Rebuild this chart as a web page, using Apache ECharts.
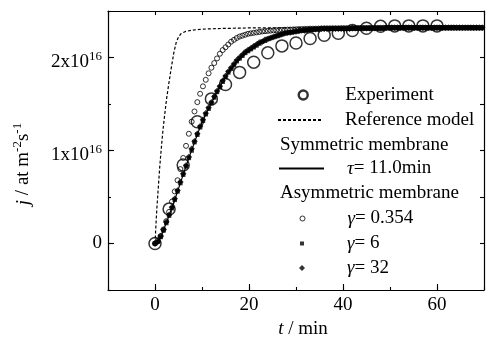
<!DOCTYPE html>
<html>
<head>
<meta charset="utf-8">
<script src="https://cdn.jsdelivr.net/npm/echarts@6/dist/echarts.min.js"></script>
<style>
  html, body { margin: 0; padding: 0; background: #fff; }
  #chart { width: 486px; height: 352px; }
</style>
</head>
<body>
<div id="chart"></div>
<script>
const FONT = '"Liberation Serif", "Times New Roman", serif';

// flux values are in units of 1e16 at m^-2 s^-1

// experiment, one point every 3 min
const expTime = [0, 3, 6, 9, 12, 15, 18, 21, 24, 27, 30, 33, 36, 39, 42, 45, 48, 51, 54, 57, 60];
const expFlux = [0, 0.37, 0.845, 1.31, 1.555, 1.71, 1.84, 1.95, 2.05, 2.125, 2.155, 2.205, 2.24, 2.26,
  2.29, 2.315, 2.335, 2.34, 2.34, 2.34, 2.34];

// reference model (dashed)
const refTime = [0, 0.2, 0.4, 0.7, 1.0, 1.3, 1.6, 2.0, 2.5, 3.0, 3.5, 4.0, 4.5, 5.0, 5.5, 6.5, 8, 10, 14, 20, 30, 70];
const refFlux = [0, 0.2, 0.38, 0.6, 0.82, 1.0, 1.17, 1.36, 1.57, 1.74, 1.9, 2.05, 2.16, 2.22, 2.255, 2.28,
  2.295, 2.305, 2.312, 2.318, 2.32, 2.32];

// symmetric membrane, tau = 11.0 min (solid)
const symTime = [0, 1, 2, 3, 4, 5, 6, 7, 8, 9, 10, 11, 12, 13, 14, 15, 16, 17, 18, 19, 20, 22, 24, 26, 28,
  30, 32, 35, 40, 45, 50, 60, 70];
const symFlux = [0, 0.05, 0.17, 0.30, 0.44, 0.59, 0.74, 0.89, 1.03, 1.17, 1.30, 1.41, 1.51, 1.61, 1.70,
  1.79, 1.87, 1.93, 1.99, 2.04, 2.07, 2.15, 2.20, 2.24, 2.265, 2.28, 2.295, 2.305, 2.315, 2.318, 2.32, 2.32, 2.32];

// asymmetric membrane models, sampled every 0.6 min from t = 0
const modelStep = 0.6;
const gamma0354 = [
  0, 0.03, 0.08, 0.15, 0.24, 0.34, 0.45, 0.56, 0.68, 0.80,
  0.92, 1.05, 1.18, 1.31, 1.42, 1.52, 1.61, 1.69, 1.76, 1.83,
  1.89, 1.94, 1.99, 2.04, 2.08, 2.11, 2.14, 2.17, 2.19, 2.21,
  2.225, 2.235, 2.245, 2.255, 2.26, 2.265, 2.27, 2.275, 2.28, 2.283,
  2.286, 2.289, 2.291, 2.293, 2.295, 2.297, 2.298, 2.30, 2.30, 2.302,
  2.303, 2.305, 2.306, 2.307, 2.308, 2.31, 2.31, 2.31, 2.311, 2.312,
  2.313, 2.313, 2.313, 2.314, 2.314, 2.314, 2.315, 2.315, 2.315, 2.315,
  2.316, 2.316, 2.316, 2.317, 2.317, 2.317, 2.318, 2.318, 2.318, 2.318,
  2.319, 2.319, 2.319, 2.32, 2.32, 2.32, 2.32, 2.32, 2.32, 2.32,
  2.32, 2.32, 2.32, 2.32, 2.32, 2.32, 2.32, 2.32, 2.32, 2.32,
  2.32, 2.32, 2.32, 2.32, 2.32, 2.32, 2.32, 2.32, 2.32, 2.32,
  2.32, 2.32, 2.32, 2.32, 2.32, 2.32, 2.32
];
const gamma6 = [
  0, 0.02, 0.07, 0.14, 0.22, 0.30, 0.38, 0.47, 0.56, 0.65,
  0.74, 0.83, 0.92, 1.00, 1.09, 1.17, 1.25, 1.32, 1.39, 1.45,
  1.51, 1.57, 1.63, 1.68, 1.74, 1.79, 1.84, 1.88, 1.92, 1.96,
  1.99, 2.02, 2.05, 2.07, 2.09, 2.11, 2.13, 2.15, 2.17, 2.18,
  2.20, 2.21, 2.22, 2.23, 2.24, 2.25, 2.26, 2.265, 2.27, 2.275,
  2.28, 2.285, 2.29, 2.29, 2.295, 2.30, 2.30, 2.305, 2.305, 2.31,
  2.31, 2.31, 2.31, 2.31, 2.31, 2.31, 2.31, 2.31, 2.31, 2.31,
  2.315, 2.315, 2.315, 2.315, 2.315, 2.315, 2.315, 2.315, 2.315, 2.315,
  2.315, 2.315, 2.32, 2.32, 2.32, 2.32, 2.32, 2.32, 2.32, 2.32,
  2.32, 2.32, 2.32, 2.32, 2.32, 2.32, 2.32, 2.32, 2.32, 2.32,
  2.32, 2.32, 2.32, 2.32, 2.32, 2.32, 2.32, 2.32, 2.32, 2.32,
  2.32, 2.32, 2.32, 2.32, 2.32, 2.32, 2.32
];
const gamma32 = [
  0, 0.02, 0.08, 0.15, 0.23, 0.31, 0.39, 0.48, 0.57, 0.66,
  0.75, 0.84, 0.93, 1.02, 1.10, 1.18, 1.26, 1.33, 1.40, 1.46,
  1.52, 1.58, 1.64, 1.69, 1.75, 1.80, 1.85, 1.89, 1.93, 1.97,
  2.00, 2.03, 2.06, 2.08, 2.10, 2.12, 2.14, 2.16, 2.17, 2.19,
  2.20, 2.21, 2.22, 2.23, 2.24, 2.25, 2.26, 2.265, 2.27, 2.275,
  2.28, 2.285, 2.29, 2.29, 2.295, 2.30, 2.30, 2.305, 2.305, 2.31,
  2.31, 2.31, 2.31, 2.31, 2.31, 2.31, 2.31, 2.31, 2.31, 2.31,
  2.315, 2.315, 2.315, 2.315, 2.315, 2.315, 2.315, 2.315, 2.315, 2.315,
  2.315, 2.315, 2.32, 2.32, 2.32, 2.32, 2.32, 2.32, 2.32, 2.32,
  2.32, 2.32, 2.32, 2.32, 2.32, 2.32, 2.32, 2.32, 2.32, 2.32,
  2.32, 2.32, 2.32, 2.32, 2.32, 2.32, 2.32, 2.32, 2.32, 2.32,
  2.32, 2.32, 2.32, 2.32, 2.32, 2.32, 2.32
];

// axis ticks
const xMajorTicks = [0, 20, 40, 60];
const yMajorTicks = [0, 1, 2];

const pairs = (ts, js) => ts.map((t, i) => [t, js[i]]);
const sampled = (js) => js.map((j, i) => [+(i * modelStep).toFixed(1), j]);

const chart = echarts.init(document.getElementById('chart'), null, { renderer: 'canvas' });

const baseText = { fontFamily: FONT, fontSize: 19, color: '#000' };
const italic = { fontFamily: FONT, fontSize: 19, fontStyle: 'italic', color: '#000' };
const noFill = 'rgba(0,0,0,0)';

// one legend component per row; icon box at iconLeft, text pushed to textX with padding
const legendRow = (name, cy, iconLeft, width, height, textX, itemStyle) => ({
  data: [name],
  left: iconLeft,
  top: cy - 10,
  orient: 'horizontal',
  padding: 0,
  itemGap: 0,
  itemWidth: width,
  itemHeight: height,
  symbolKeepAspect: true,
  selectedMode: false,
  itemStyle: itemStyle,
  textStyle: {
    ...baseText,
    padding: [0, 0, 0, Math.max(0, textX - (iconLeft + width + 5))],
    rich: { i: italic }
  },
  formatter: (n) => n.replace(/^([γτ])/, '{i|$1}')
});

const axisLine = { show: true, onZero: false, lineStyle: { color: '#000', width: 1.2 } };
const hiddenLine = { show: false, onZero: false };

const option = {
  animation: false,
  backgroundColor: '#fff',
  grid: { left: 108, right: 2, top: 11, bottom: 62 },
  xAxis: [
    {
      type: 'value', position: 'bottom', min: -10, max: 70, interval: 10,
      axisLine: axisLine,
      axisTick: { inside: true, length: 3, lineStyle: { color: '#000', width: 1.1 } },
      axisLabel: { customValues: xMajorTicks, margin: 6, ...baseText },
      splitLine: { show: false },
      name: '{i|t} / min',
      nameLocation: 'middle',
      nameGap: 19,
      nameTextStyle: { ...baseText, padding: [0, 0, 0, 14], rich: { i: italic } }
    },
    {
      type: 'value', position: 'bottom', min: -10, max: 70, interval: 10,
      axisLine: hiddenLine,
      axisTick: { inside: true, length: 6, customValues: xMajorTicks, lineStyle: { color: '#000', width: 1.1 } },
      axisLabel: { show: false },
      splitLine: { show: false }
    },
    {
      type: 'value', position: 'top', min: -10, max: 70, interval: 10,
      axisLine: axisLine,
      axisTick: { inside: true, length: 4, lineStyle: { color: '#000', width: 1.1 } },
      axisLabel: { show: false },
      splitLine: { show: false }
    }
  ],
  yAxis: [
    {
      type: 'value', position: 'left', min: -0.5, max: 2.5, interval: 0.5,
      axisLine: axisLine,
      axisTick: { inside: true, length: 3, lineStyle: { color: '#000', width: 1.1 } },
      axisLabel: {
        customValues: yMajorTicks,
        margin: 6,
        ...baseText,
        formatter: (v) => (v === 0 ? '0' : '{b|' + v + 'x10}{sup|16}'),
        rich: {
          b: { ...baseText, padding: [10, 0, 0, 0] },
          sup: { fontFamily: FONT, fontSize: 13, color: '#000', padding: [0, 0, 2, 0] }
        }
      },
      splitLine: { show: false },
      name: '{i|j} / at m{sup|-2}s{sup|-1}',
      nameLocation: 'middle',
      nameGap: 72,
      nameTextStyle: {
        ...baseText,
        padding: [0, 27, 0, 0],
        rich: {
          i: italic,
          sup: { fontFamily: FONT, fontSize: 13, color: '#000', padding: [0, 0, 12, 0] }
        }
      }
    },
    {
      type: 'value', position: 'left', min: -0.5, max: 2.5, interval: 0.5,
      axisLine: hiddenLine,
      axisTick: { inside: true, length: 6, customValues: yMajorTicks, lineStyle: { color: '#000', width: 1.1 } },
      axisLabel: { show: false },
      splitLine: { show: false }
    },
    {
      type: 'value', position: 'right', min: -0.5, max: 2.5, interval: 0.5,
      axisLine: axisLine,
      axisTick: { inside: true, length: 4, lineStyle: { color: '#000', width: 1.1 } },
      axisLabel: { show: false },
      splitLine: { show: false }
    }
  ],
  legend: [
    legendRow('Experiment', 95.5, 297.5, 9, 9, 344, { borderWidth: 2.4, borderColor: '#000' }),
    legendRow('Reference model', 120.5, 277, 45, 8, 344, { color: noFill, borderWidth: 0 }),
    legendRow('τ= 11.0min', 169, 278, 45, 8, 346, { color: noFill, borderWidth: 0 }),
    legendRow('γ= 0.354', 219, 299.5, 5, 5, 347, { borderWidth: 1 }),
    legendRow('γ= 6', 244, 300, 4, 4, 347, {}),
    legendRow('γ= 32', 268.5, 299, 6, 6, 347, {})
  ],
  graphic: [
    { type: 'text', left: 280, top: 136, style: { text: 'Symmetric membrane', font: '19px ' + FONT, fill: '#000' } },
    { type: 'text', left: 280, top: 184, style: { text: 'Asymmetric membrane', font: '19px ' + FONT, fill: '#000' } }
  ],
  series: [
    {
      name: 'Reference model', type: 'line', data: pairs(refTime, refFlux),
      symbol: 'none', itemStyle: { color: '#000' },
      lineStyle: { color: '#000', width: 1.2, type: [3, 2] }, z: 2
    },
    {
      name: 'τ= 11.0min', type: 'line', data: pairs(symTime, symFlux),
      symbol: 'none', smooth: 0.3, itemStyle: { color: '#000' },
      lineStyle: { color: '#000', width: 1.2 }, z: 2
    },
    {
      name: 'γ= 0.354', type: 'scatter', data: sampled(gamma0354),
      symbol: 'circle', symbolSize: 5,
      itemStyle: { color: noFill, borderColor: '#000', borderWidth: 1 }, z: 3
    },
    {
      name: 'γ= 6', type: 'scatter', data: sampled(gamma6),
      symbol: 'rect', symbolSize: 4.5, itemStyle: { color: '#000' }, z: 3
    },
    {
      name: 'γ= 32', type: 'scatter', data: sampled(gamma32),
      symbol: 'diamond', symbolSize: 6.5, itemStyle: { color: '#000' }, z: 3
    },
    {
      name: 'Experiment', type: 'scatter', data: pairs(expTime, expFlux),
      symbol: 'circle', symbolSize: 12,
      itemStyle: { color: noFill, borderColor: '#000', borderWidth: 1.5 }, z: 4
    }
  ]
};

chart.setOption(option);
</script>
</body>
</html>
